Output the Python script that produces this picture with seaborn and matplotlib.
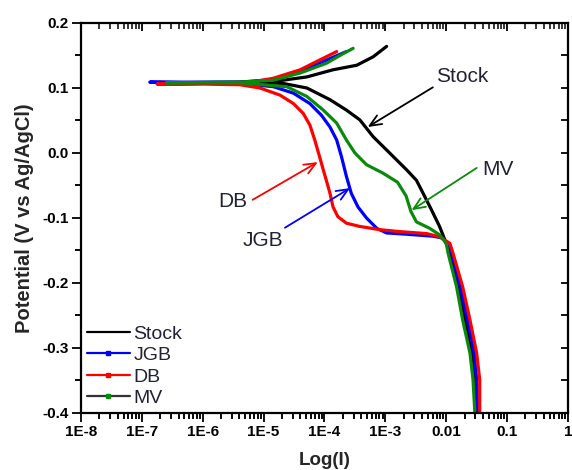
"""polarization curves for stock, JGB, DB and MV samples"""

import numpy as np
import pandas as pd
import seaborn as sns
import matplotlib.pyplot as plt
from matplotlib.lines import Line2D
from matplotlib.ticker import FixedLocator

# log10 of current and potential (V vs Ag/AgCl)
stock_log_i = [-1.51, -1.53, -1.58, -1.69, -1.80, -1.94, -2.00, -2.11, -2.24, -2.38, -2.49, -2.65,
               -2.93, -3.20, -3.42, -3.64, -3.91, -4.29, -4.68, -5.40, -6.50, -5.40, -4.68, -4.29,
               -3.86, -3.47, -3.20, -2.98]
stock_v = [-0.400, -0.349, -0.308, -0.257, -0.206, -0.154, -0.139, -0.113, -0.088, -0.062, -0.042,
           -0.026, 0.000, 0.025, 0.051, 0.066, 0.082, 0.100, 0.107, 0.108, 0.108, 0.109, 0.112,
           0.117, 0.128, 0.135, 0.148, 0.164]

jgb_log_i = [-1.48, -1.50, -1.54, -1.65, -1.77, -1.91, -2.05, -2.22, -2.65, -2.98, -3.14, -3.31,
             -3.45, -3.56, -3.64, -3.72, -3.80, -3.91, -4.05, -4.24, -4.51, -4.84, -5.40, -6.87,
             -5.40, -4.84, -4.40, -4.02, -3.64]
jgb_v = [-0.400, -0.349, -0.308, -0.257, -0.206, -0.154, -0.131, -0.128, -0.125, -0.123, -0.116,
         -0.100, -0.083, -0.062, -0.036, -0.006, 0.020, 0.040, 0.058, 0.076, 0.092, 0.102, 0.107,
         0.109, 0.109, 0.113, 0.126, 0.141, 0.156]

db_log_i = [-1.45, -1.45, -1.50, -1.61, -1.73, -1.89, -1.94, -2.11, -2.32, -2.76, -3.09, -3.42,
            -3.64, -3.78, -3.86, -3.91, -3.97, -4.02, -4.08, -4.16, -4.24, -4.35, -4.51, -4.73,
            -5.06, -5.39, -6.00, -6.75, -6.00, -5.20, -4.84, -4.40, -4.08, -3.80]
db_v = [-0.400, -0.349, -0.308, -0.257, -0.206, -0.154, -0.139, -0.129, -0.124, -0.121, -0.118,
        -0.113, -0.108, -0.098, -0.083, -0.062, -0.042, -0.026, -0.006, 0.020, 0.043, 0.061,
        0.076, 0.089, 0.100, 0.105, 0.106, 0.106, 0.107, 0.109, 0.115, 0.128, 0.143, 0.156]

mv_log_i = [-1.53, -1.56, -1.61, -1.73, -1.83, -1.97, -2.00, -2.11, -2.27, -2.49, -2.58, -2.66,
            -2.80, -3.04, -3.31, -3.50, -3.64, -3.80, -4.02, -4.29, -4.62, -5.40, -6.60, -5.40,
            -4.84, -4.40, -3.97, -3.69, -3.53]
mv_v = [-0.400, -0.349, -0.308, -0.257, -0.206, -0.154, -0.139, -0.126, -0.116, -0.106, -0.090,
        -0.066, -0.045, -0.031, -0.018, 0.000, 0.020, 0.046, 0.066, 0.087, 0.102, 0.108, 0.108,
        0.109, 0.112, 0.123, 0.138, 0.153, 0.161]

samples = ["Stock", "JGB", "DB", "MV"]
colors = {"Stock": "black", "JGB": "#0000ff", "DB": "#ff0000", "MV": "#0a8a0a"}

# label position (log I, V), arrow tail and arrow tip
notes = {
    "Stock": ((-1.74, 0.117), (-2.22, 0.101), (-3.29, 0.040)),
    "MV": ((-1.15, -0.026), (-1.50, -0.023), (-2.57, -0.088)),
    "DB": ((-5.50, -0.075), (-5.18, -0.072), (-4.11, -0.014)),
    "JGB": ((-5.01, -0.134), (-4.65, -0.115), (-3.58, -0.054)),
}

x_ticks = [1e-8, 1e-7, 1e-6, 1e-5, 1e-4, 1e-3, 1e-2, 1e-1, 1]
x_tick_labels = ["1E-8", "1E-7", "1E-6", "1E-5", "1E-4", "1E-3", "0.01", "0.1", "1"]
x_minor = [k * 10.0 ** e for e in range(-8, 0) for k in range(2, 10)]
y_ticks = [-0.4, -0.3, -0.2, -0.1, 0.0, 0.1, 0.2]
y_minor = [-0.35, -0.25, -0.15, -0.05, 0.05, 0.15]
y_right = [-0.4, -0.35, -0.3, -0.25, -0.2, -0.15, -0.1, -0.05, 0.0, 0.05, 0.1, 0.15, 0.2]


def build_frame():
    parts = []
    for name, li, v in [("Stock", stock_log_i, stock_v), ("JGB", jgb_log_i, jgb_v),
                        ("DB", db_log_i, db_v), ("MV", mv_log_i, mv_v)]:
        parts.append(pd.DataFrame({"sample": name, "current": 10.0 ** np.array(li), "potential": v}))
    return pd.concat(parts, ignore_index=True)


def tick_marks(ax, values, side, length, width):
    """draw tick marks along one edge, as markers placed by the axis transforms"""
    if side in ("bottom", "top"):
        pos = 0.0 if side == "bottom" else 1.0
        ax.plot(values, [pos] * len(values), transform=ax.get_xaxis_transform(), ls="none",
                marker=3, ms=length, mew=width, color="black", clip_on=False, zorder=3)
    else:
        pos = 0.0 if side == "left" else 1.0
        ax.plot([pos] * len(values), values, transform=ax.get_yaxis_transform(), ls="none",
                marker=0, ms=length, mew=width, color="black", clip_on=False, zorder=3)


sns.set_theme(style="ticks")
plt.rcParams["font.family"] = ["Liberation Sans", "DejaVu Sans"]

df = build_frame()

fig = plt.figure(figsize=(5.72, 4.70), dpi=100)
ax = fig.add_axes([0.1416, 0.1213, 0.8514, 0.8298])
ax.set_xscale("log")

for name in samples:
    sub = df[df["sample"] == name]
    sns.lineplot(data=sub, x="current", y="potential", sort=False, estimator=None,
                 color=colors[name], lw=2.3, ax=ax, legend=False)

# minor ticks out on bottom/left, mirrored ticks in on top/right
tick_marks(ax, x_minor, "bottom", 4, 1.1)
tick_marks(ax, y_minor, "left", 4, 1.1)
tick_marks(ax, x_ticks, "top", 6, 1.3)
tick_marks(ax, x_minor, "top", 4, 1.1)
tick_marks(ax, y_right, "right", 5, 1.3)

ax.set_xlim(1e-8, 1)
ax.set_ylim(-0.4, 0.2)

ax.xaxis.set_major_locator(FixedLocator(x_ticks))
ax.xaxis.set_minor_locator(FixedLocator(x_minor))
ax.set_xticklabels(x_tick_labels, fontweight="bold")
ax.yaxis.set_major_locator(FixedLocator(y_ticks))
ax.yaxis.set_minor_locator(FixedLocator(y_minor))
ax.set_yticklabels([f"{v:.1f}" for v in y_ticks], fontweight="bold")

for s in ax.spines.values():
    s.set_linewidth(1.6)
    s.set_color("black")
ax.tick_params(which="major", direction="out", length=6.5, width=1.3, colors="black",
               labelsize=11, pad=2.5)
ax.tick_params(which="minor", direction="out", length=4, width=1.1, colors="black")

ax.set_xlabel("Log(I)", fontsize=13.5, fontweight="bold", labelpad=9)
ax.set_ylabel("Potential (V vs Ag/AgCl)", fontsize=14.5, fontweight="bold", labelpad=6)

for name, (txt, tail, tip) in notes.items():
    ax.text(10 ** txt[0], txt[1], name, fontsize=15, color="#222233", ha="center", va="center")
    ax.annotate("", xy=(10 ** tip[0], tip[1]), xytext=(10 ** tail[0], tail[1]),
                arrowprops=dict(arrowstyle="->,head_length=0.7,head_width=0.3",
                                color=colors[name], lw=1.3, shrinkA=0, shrinkB=0))

handles = [
    Line2D([], [], color="black", lw=1.6),
    Line2D([], [], color="#0000ff", lw=1.6, marker="s", ms=2.5),
    Line2D([], [], color="#ff0000", lw=1.6, marker="s", ms=2.5),
    Line2D([], [], color="#333333", lw=1.6, marker="s", ms=2.5,
           markerfacecolor="#0a8a0a", markeredgecolor="#0a8a0a"),
]
ax.legend(handles, samples, loc="lower left", bbox_to_anchor=(0.0, 0.0), frameon=False,
          fontsize=14, handlelength=2.2, handletextpad=0.2, labelspacing=0.2,
          borderaxespad=0.1, borderpad=0.2, labelcolor="#222233")

fig.savefig("out.png", dpi=100)
